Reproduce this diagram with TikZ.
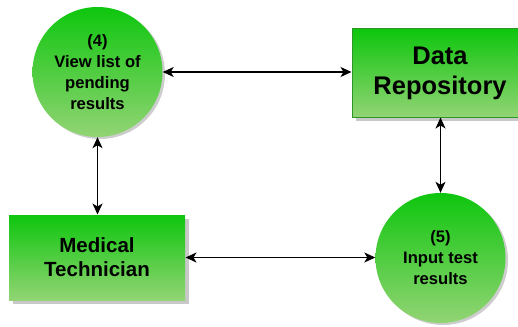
\documentclass[tikz,border=0pt]{standalone}
\usepackage{fontspec}
\setmainfont{Liberation Sans}
\usetikzlibrary{arrows.meta,shadows}
\definecolor{gtop}{RGB}{14,198,14}
\definecolor{gbot}{RGB}{146,212,116}
\definecolor{gline}{RGB}{45,150,40}
\definecolor{shade}{RGB}{200,200,200}
\tikzset{
  procnode/.style={circle, minimum size=130pt, inner sep=0pt, top color=gtop, bottom color=gbot,
    draw=none, align=center, font=\bfseries\fontsize{16.6}{21}\selectfont,
    drop shadow={shadow xshift=2.5pt, shadow yshift=-2pt, fill=shade, opacity=0.9}},
  entnode/.style={rectangle, minimum width=176pt, inner sep=0pt, top color=gtop, bottom color=gbot,
    draw=gline, line width=1pt, align=center,
    drop shadow={shadow xshift=4pt, shadow yshift=-4pt, fill=shade, opacity=1}},
  link/.style={{Stealth[length=11pt,width=10pt,inset=3pt]}-{Stealth[length=11pt,width=10pt,inset=3pt]}, line width=1.3pt, black}
}
\begin{document}
\begin{tikzpicture}[x=1pt,y=-1pt]
\useasboundingbox (0,0) rectangle (518,326);
\node[procnode] (p4) at (97.5,72) {(4)\\View list of\\pending\\results};
\node[procnode] (p5) at (440.5,258) {(5)\\Input test\\results};
\node[entnode, minimum height=88pt, font=\bfseries\fontsize{25.5}{30}\selectfont] (dr) at (440,73) {Data\\Repository};
\node[entnode, minimum height=85pt, draw=none, font=\bfseries\fontsize{20.5}{24}\selectfont] (mt) at (97,257.5) {Medical\\Technician};
\draw[link] (p4.east) -- (p4.east -| dr.west);
\draw[link] (p4.south) -- (p4.south |- mt.north);
\draw[link] (mt.east) -- (mt.east -| p5.west);
\draw[link] (dr.south -| p5.north) -- (p5.north);
\end{tikzpicture}
\end{document}
